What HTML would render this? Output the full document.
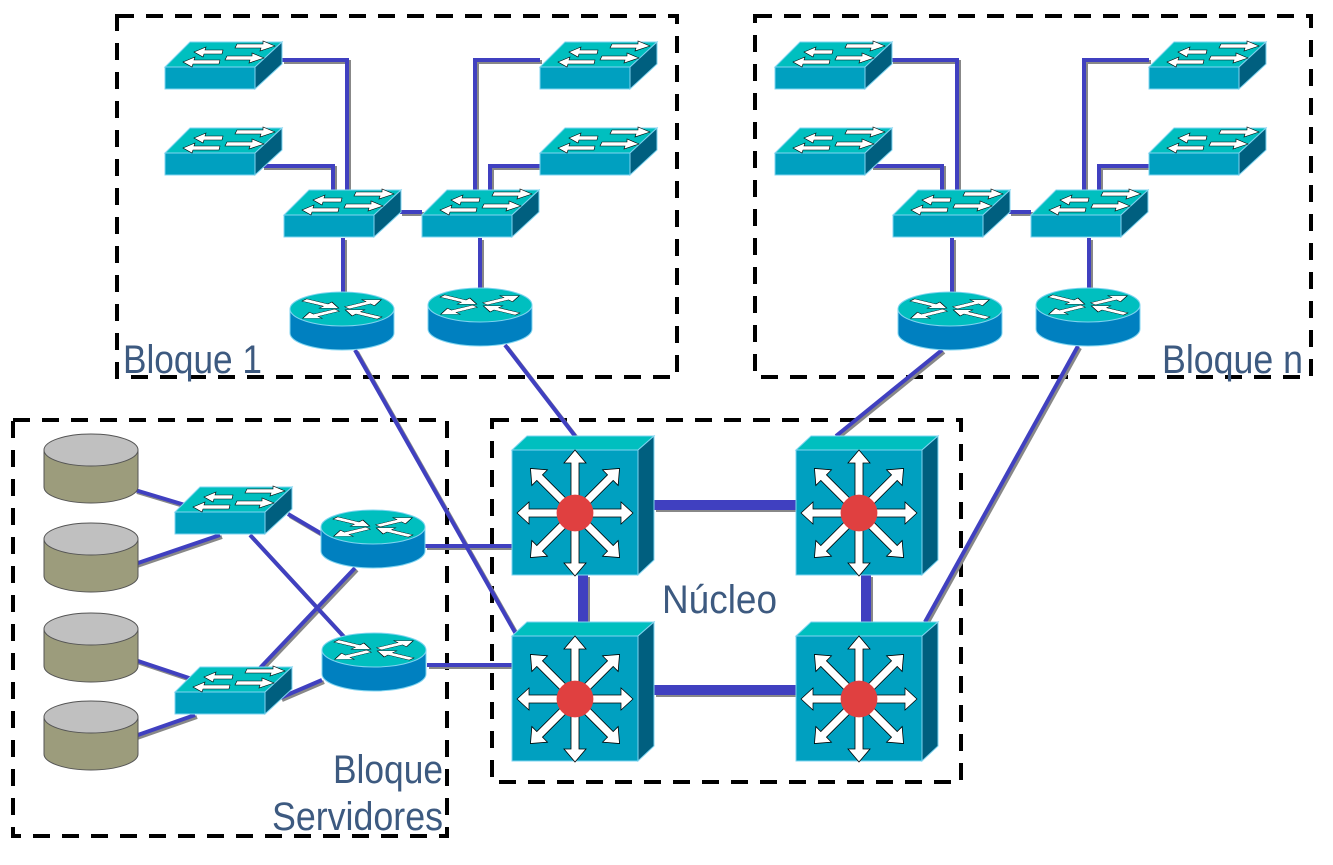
<!DOCTYPE html>
<html><head><meta charset="utf-8"><style>
html,body{margin:0;padding:0;background:#fff;}
svg{display:block;}
text{font-family:"Liberation Sans Narrow","Liberation Sans",sans-serif;fill:#3d5a80;}
</style></head><body>
<svg width="1333" height="865" viewBox="0 0 1333 865" xmlns="http://www.w3.org/2000/svg">
<defs>
  <g id="sw">
    <polygon points="0,25 25,0 117,0 90,25" fill="#00bfbf" stroke="#7fd4f0" stroke-width="1"/>
    <rect x="0" y="25" width="90" height="22" fill="#00a0c0" stroke="#7fd4f0" stroke-width="1"/>
    <polygon points="90,25 117,0 117,22 90,47" fill="#005f7f" stroke="#7fd4f0" stroke-width="1"/>
    <g fill="#fff" stroke="#000" stroke-width="0.6">
      <polygon points="29,10 41,5 40,8 58,8 57,12 39,12 38,15"/>
      <polygon points="18,20 30,15 29,18 55,18 54,22 28,22 27,25"/>
      <polygon points="110,4 98,-1 98,2 72,2 70,6 96,6 95,9"/>
      <polygon points="99,16 87,11 87,14 62,14 60,18 85,18 84,21"/>
    </g>
  </g>
  <g id="rarr"><polygon points="6,-4 32,-4 32,-11 48,0 32,11 32,4 6,4"/></g>
  <g id="rarri"><polygon points="46,-4 20,-4 20,-11 4,0 20,11 20,4 46,4"/></g>
  <g id="rt">
    <path d="M-52,0 L-52,24 A52,17 0 0 0 52,24 L52,0 Z" fill="#0080c0" stroke="#7fd4f0"/>
    <ellipse cx="0" cy="0" rx="52" ry="17" fill="#00bfbf" stroke="#7fd4f0"/>
    <g transform="scale(1,0.34)" fill="#fff" stroke="#000" stroke-width="1">
      <use href="#rarri" transform="rotate(-145)"/>
      <use href="#rarr" transform="rotate(-35)"/>
      <use href="#rarr" transform="rotate(145)"/>
      <use href="#rarri" transform="rotate(35)"/>
    </g>
  </g>
  <g id="ml">
    <polygon points="0,14 15,0 142,0 126,14" fill="#00bfbf" stroke="#7fd4f0"/>
    <rect x="0" y="14" width="126" height="125" fill="#00a0c0" stroke="#7fd4f0"/>
    <polygon points="126,14 142,0 142,124 126,139" fill="#005f7f" stroke="#7fd4f0"/>
    <g transform="translate(63,77)" fill="#fff" stroke="#000" stroke-width="0.8">
      <g id="arr"><polygon points="-4,0 -4,-50 -11,-50 0,-63 11,-50 4,-50 4,0"/></g>
      <use href="#arr" transform="rotate(45)"/>
      <use href="#arr" transform="rotate(90) scale(1,0.92)"/>
      <use href="#arr" transform="rotate(135)"/>
      <use href="#arr" transform="rotate(180)"/>
      <use href="#arr" transform="rotate(225)"/>
      <use href="#arr" transform="rotate(270) scale(1,0.92)"/>
      <use href="#arr" transform="rotate(315)"/>
      <circle r="18" fill="#e04040" stroke="#e04040"/>
    </g>
  </g>
  <g id="dk">
    <path d="M-47,0 L-47,37 A47,16 0 0 0 47,37 L47,0 Z" fill="#9c9c7c" stroke="#555" stroke-width="1"/>
    <ellipse cx="0" cy="0" rx="47" ry="16" fill="#c0c0c0" stroke="#555" stroke-width="1"/>
  </g>
</defs>

<g fill="none" stroke="#000" stroke-width="4" stroke-dasharray="17,12">
  <rect x="117" y="16" width="560" height="361"/>
  <rect x="755" y="16" width="556" height="361"/>
  <rect x="13" y="420" width="434" height="416"/>
  <rect x="492" y="420" width="469" height="362"/>
</g>

<g id="links" fill="none" stroke-width="4">
<g stroke="#888" transform="translate(2,2)">
  <polyline points="282,60 347,60 347,192"/>
  <polyline points="262,166 333,166 333,192"/>
  <polyline points="540,60 475,60 475,192"/>
  <polyline points="540,166 490,166 490,192"/>
  <line x1="400" y1="212" x2="422" y2="212"/>
  <line x1="343" y1="238" x2="343" y2="292"/>
  <line x1="480" y1="238" x2="480" y2="288"/>
  <polyline points="891,60 957,60 957,192"/>
  <polyline points="871,166 942,166 942,192"/>
  <polyline points="1149,60 1084,60 1084,192"/>
  <polyline points="1149,166 1099,166 1099,192"/>
  <line x1="1009" y1="212" x2="1031" y2="212"/>
  <line x1="952" y1="238" x2="952" y2="292"/>
  <line x1="1089" y1="238" x2="1089" y2="288"/>
  <line x1="355" y1="350" x2="516" y2="634"/>
  <line x1="505" y1="345" x2="575" y2="436"/>
  <line x1="942" y1="350" x2="836" y2="436"/>
  <line x1="1078" y1="346" x2="925" y2="622"/>
  <line x1="135" y1="490" x2="185" y2="505"/>
  <line x1="135" y1="564" x2="220" y2="535"/>
  <line x1="135" y1="660" x2="195" y2="680"/>
  <line x1="135" y1="736" x2="195" y2="715"/>
  <line x1="288" y1="514" x2="322" y2="534"/>
  <line x1="250" y1="535" x2="345" y2="638"/>
  <line x1="260" y1="668" x2="355" y2="568"/>
  <line x1="280" y1="698" x2="322" y2="680"/>
  <line x1="425" y1="546" x2="512" y2="546"/>
  <line x1="427" y1="665" x2="512" y2="665"/>
</g>
<g stroke="#4040c0">
  <polyline points="282,60 347,60 347,192"/>
  <polyline points="262,166 333,166 333,192"/>
  <polyline points="540,60 475,60 475,192"/>
  <polyline points="540,166 490,166 490,192"/>
  <line x1="400" y1="212" x2="422" y2="212"/>
  <line x1="343" y1="238" x2="343" y2="292"/>
  <line x1="480" y1="238" x2="480" y2="288"/>
  <polyline points="891,60 957,60 957,192"/>
  <polyline points="871,166 942,166 942,192"/>
  <polyline points="1149,60 1084,60 1084,192"/>
  <polyline points="1149,166 1099,166 1099,192"/>
  <line x1="1009" y1="212" x2="1031" y2="212"/>
  <line x1="952" y1="238" x2="952" y2="292"/>
  <line x1="1089" y1="238" x2="1089" y2="288"/>
  <line x1="355" y1="350" x2="516" y2="634"/>
  <line x1="505" y1="345" x2="575" y2="436"/>
  <line x1="942" y1="350" x2="836" y2="436"/>
  <line x1="1078" y1="346" x2="925" y2="622"/>
  <line x1="135" y1="490" x2="185" y2="505"/>
  <line x1="135" y1="564" x2="220" y2="535"/>
  <line x1="135" y1="660" x2="195" y2="680"/>
  <line x1="135" y1="736" x2="195" y2="715"/>
  <line x1="288" y1="514" x2="322" y2="534"/>
  <line x1="250" y1="535" x2="345" y2="638"/>
  <line x1="260" y1="668" x2="355" y2="568"/>
  <line x1="280" y1="698" x2="322" y2="680"/>
  <line x1="425" y1="546" x2="512" y2="546"/>
  <line x1="427" y1="665" x2="512" y2="665"/>
</g>
</g>
<g stroke="#888" stroke-width="10" transform="translate(2,2)">
  <line x1="654" y1="505" x2="796" y2="505"/>
  <line x1="654" y1="690" x2="796" y2="690"/>
  <line x1="583" y1="575" x2="583" y2="636"/>
  <line x1="866" y1="575" x2="866" y2="636"/>
</g>
<g stroke="#4040c0" stroke-width="10">
  <line x1="654" y1="505" x2="796" y2="505"/>
  <line x1="654" y1="690" x2="796" y2="690"/>
  <line x1="583" y1="575" x2="583" y2="636"/>
  <line x1="866" y1="575" x2="866" y2="636"/>
</g>

<use href="#sw" x="165" y="42"/>
<use href="#sw" x="165" y="128"/>
<use href="#sw" x="540" y="42"/>
<use href="#sw" x="540" y="128"/>
<use href="#sw" x="284" y="190"/>
<use href="#sw" x="422" y="190"/>
<use href="#sw" x="775" y="42"/>
<use href="#sw" x="775" y="128"/>
<use href="#sw" x="1149" y="42"/>
<use href="#sw" x="1149" y="128"/>
<use href="#sw" x="893" y="190"/>
<use href="#sw" x="1031" y="190"/>
<use href="#sw" x="175" y="487"/>
<use href="#sw" x="175" y="667"/>

<use href="#rt" x="342" y="309"/>
<use href="#rt" x="480" y="305"/>
<use href="#rt" x="950" y="309"/>
<use href="#rt" x="1088" y="305"/>
<use href="#rt" x="373" y="527"/>
<use href="#rt" x="374" y="650"/>

<use href="#ml" x="512" y="436"/>
<use href="#ml" x="796" y="436"/>
<use href="#ml" x="512" y="622"/>
<use href="#ml" x="796" y="622"/>

<use href="#dk" x="91" y="450"/>
<use href="#dk" x="91" y="539"/>
<use href="#dk" x="91" y="629"/>
<use href="#dk" x="91" y="717"/>

<text x="123" y="373" font-size="40" textLength="139" lengthAdjust="spacingAndGlyphs">Bloque 1</text>
<text x="1162" y="373" font-size="40" textLength="141" lengthAdjust="spacingAndGlyphs">Bloque n</text>
<text x="662" y="613" font-size="40" textLength="115" lengthAdjust="spacingAndGlyphs">Núcleo</text>
<text x="333" y="783" font-size="40" textLength="110" lengthAdjust="spacingAndGlyphs">Bloque</text>
<text x="272" y="830" font-size="40" textLength="171" lengthAdjust="spacingAndGlyphs">Servidores</text>
</svg>
</body></html>
